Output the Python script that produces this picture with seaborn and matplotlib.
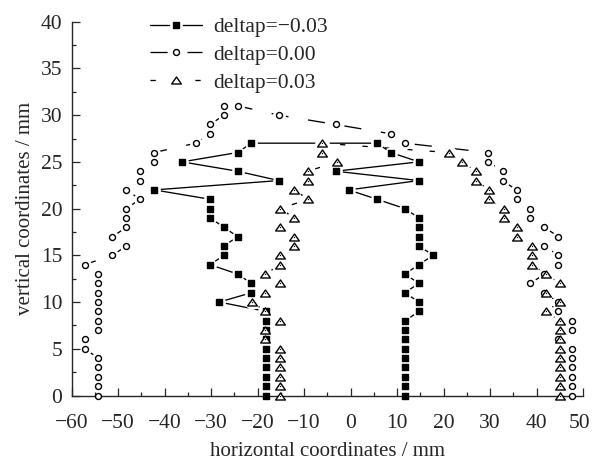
import numpy as np
import pandas as pd
import matplotlib
matplotlib.use("Agg")
import matplotlib.pyplot as plt
from matplotlib.lines import Line2D
from matplotlib.legend_handler import HandlerTuple
from matplotlib.path import Path
import matplotlib.transforms as mtransforms
import seaborn as sns

# ---------------- data ----------------
# deltap = -0.03 (filled squares): left side going up, right side going down
sq_left_y = list(range(0, 28))
sq_left_x = [-18.2] * 10 + [-28.2, -21.3, -21.3, -24.3, -30.2, -27.2, -27.2, -24.3,
                            -27.2, -30.2, -30.2, -30.2, -42.2, -15.4, -24.3, -36.2,
                            -24.3, -21.3]
sq_right_y = list(range(27, -1, -1))
sq_right_x = [5.7, 8.7, 14.7, -3.2, 14.7, -0.4, 5.7, 11.7, 14.7, 14.7, 14.7, 14.7,
              17.8, 14.7, 11.7, 14.7, 11.7, 14.7, 14.7] + [11.8] * 9

# deltap = 0.00 (open circles)
ci_left_y = list(range(0, 32))
ci_left_x = [-54.2] * 5 + [-57.2, -57.2] + [-54.2] * 7 + [-57.2, -51.2, -48.2, -51.2,
             -48.2, -48.2, -48.2, -45.3, -48.2, -45.3, -45.3, -42.2, -42.2, -33.3,
             -30.2, -30.2, -27.2, -27.2]
ci_top_y = [31, 30, 29, 28, 27]
ci_top_x = [-24.3, -15.4, -3.2, 8.7, 11.7]
ci_right_y = list(range(26, -1, -1))
ci_right_x = [29.6, 29.6, 32.7, 32.7, 35.7, 35.7, 38.7, 38.7, 41.7, 44.7, 41.7, 44.7,
              44.7, 41.7, 38.7, 41.7, 44.7, 44.7, 47.7, 47.7, 44.7] + [47.7] * 6

# deltap = 0.03 (open triangles)
tr_left_y = list(range(0, 28))
tr_left_x = [-15.1] * 6 + [-18.3, -18.3, -15.1, -18.3, -21.1, -18.3, -15.1, -18.3,
             -15.1, -15.1, -12.1, -12.1, -15.1, -12.1, -15.1, -9.1, -12.1, -9.1,
             -9.1, -3.0, -6.1, -6.1]
tr_right_y = list(range(26, -1, -1))
tr_right_x = [21.1, 23.9, 27.0, 27.0, 29.8, 29.8, 33.1, 33.1, 35.9, 35.9, 39.0, 39.0,
              39.0, 42.0, 45.0, 42.0, 45.0, 42.0] + [45.0] * 9

labels = ["deltap=\u22120.03", "deltap=0.00", "deltap=0.03"]
x_ticks = [-60, -50, -40, -30, -20, -10, 0, 10, 20, 30, 40, 50]
y_ticks = [0, 5, 10, 15, 20, 25, 30, 35, 40]

sq = pd.DataFrame({"x": sq_left_x + sq_right_x, "y": sq_left_y + sq_right_y})
ci = pd.DataFrame({"x": ci_left_x + ci_top_x + ci_right_x,
                   "y": ci_left_y + ci_top_y + ci_right_y})
tr = pd.DataFrame({"x": tr_left_x + tr_right_x, "y": tr_left_y + tr_right_y})

# ---------------- style ----------------
sns.set_style("ticks")
plt.rcParams["font.family"] = ["Liberation Serif", "DejaVu Serif"]
plt.rcParams["axes.unicode_minus"] = True

fig = plt.figure(figsize=(5.93, 4.65), dpi=100)
ax = fig.add_axes([71.5 / 593, 1 - 395.5 / 465, 511.5 / 593, 373.8 / 465])

flat_tri = Path([(-1, -0.72), (1, -0.72), (0, 0.72), (-1, -0.72)],
                [Path.MOVETO, Path.LINETO, Path.LINETO, Path.CLOSEPOLY])

lw = 0.95
styles = [
    dict(df=sq, ls="-", marker="s", ms=4.3, mfc="black", halo=85),
    dict(df=ci, ls=(0, (13, 15)), marker="o", ms=4.3, mfc="white", halo=85),
    dict(df=tr, ls=(0, (4, 13)), marker=flat_tri, ms=7.0, mfc="white", halo=110),
]

# lines
for st in styles:
    sns.lineplot(data=st["df"], x="x", y="y", sort=False, estimator=None, ax=ax,
                 color="black", linewidth=lw, linestyle=st["ls"], zorder=2)
# white gaps around symbols
for st in styles:
    sns.scatterplot(data=st["df"], x="x", y="y", ax=ax, color="white", marker="o",
                    s=st["halo"], linewidth=0, zorder=2.2, clip_on=False)
# symbols
for st in styles:
    sns.scatterplot(data=st["df"], x="x", y="y", ax=ax, marker=st["marker"],
                    s=st["ms"] ** 2, facecolor=st["mfc"], edgecolor="black",
                    linewidth=1.0, zorder=3, clip_on=False)
# small centre dot of the triangle symbols
sns.scatterplot(data=tr, x="x", y="y", ax=ax, color="black", marker="o", s=0.9,
                linewidth=0, zorder=3.1, clip_on=False)

ax.set_xlim(-60, 50)
ax.set_ylim(0, 40)
ax.set_xticks(x_ticks)
ax.set_yticks(y_ticks)
ax.set_xticks(np.arange(-55, 50, 10), minor=True)
ax.set_yticks(np.arange(2.5, 40, 5), minor=True)
ax.set_axisbelow(False)
sns.despine(ax=ax)
for s in ["left", "bottom"]:
    ax.spines[s].set_linewidth(1.0)
ax.tick_params(which="major", direction="in", length=5.5, width=0.9, labelsize=15.5)
ax.tick_params(axis="x", which="major", pad=13)
ax.tick_params(axis="y", which="major", pad=6.5)
ax.tick_params(which="minor", direction="in", length=3, width=0.9)
ax.set_xlabel("horizontal coordinates / mm", fontsize=15, labelpad=7)
ax.set_ylabel("vertical coordinates / mm", fontsize=15, labelpad=4)

# keep the last x tick label inside the picture
fig.canvas.draw()
last = ax.get_xticklabels()[-1]
last.set_transform(last.get_transform() +
                   mtransforms.ScaledTranslation(-2.5 / 72, 0, fig.dpi_scale_trans))

# legend
handles = []
for st in styles:
    line = Line2D([], [], color="black", linewidth=lw, linestyle=st["ls"])
    halo = Line2D([], [], linestyle="none", marker="o", markersize=np.sqrt(st["halo"]),
                  markerfacecolor="white", markeredgewidth=0)
    mk = Line2D([], [], linestyle="none", marker=st["marker"], markersize=st["ms"],
                markerfacecolor=st["mfc"], markeredgecolor="black", markeredgewidth=1.0)
    handles.append((line, halo, mk))
ax.legend(handles, labels, handler_map={tuple: HandlerTuple(ndivide=1)},
          loc="upper left", bbox_to_anchor=(150 / 593, 1 - 17 / 465),
          bbox_transform=fig.transFigure, frameon=False, fontsize=15.5,
          handlelength=2.4, handletextpad=0.55, labelspacing=0.36, borderpad=0,
          borderaxespad=0)

fig.savefig("out.png", dpi=100)
